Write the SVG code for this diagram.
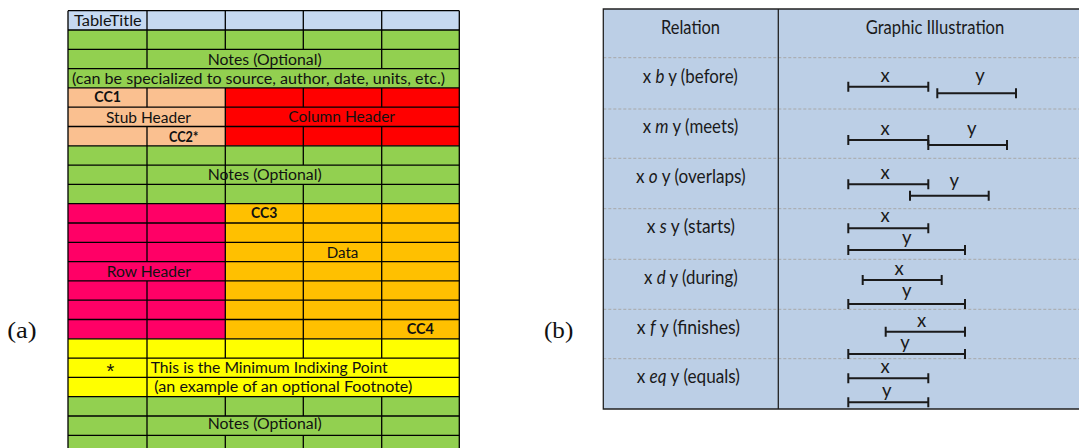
<svg xmlns="http://www.w3.org/2000/svg" width="1079" height="448" viewBox="0 0 1079 448">
  <style>
    .t { font-family: Lato, "Liberation Sans", sans-serif; font-size: 14.5px; fill: #111; }
    .b { font-weight: bold; }
    .grid { stroke: #000; stroke-width: 1.3; fill: none; }
    .r { font-family: Lato, "Liberation Sans", sans-serif; font-size: 18.5px; fill: #1a1a1a; text-anchor: middle; }
    .iv { stroke: #1a1a1a; stroke-width: 2; fill: none; }
    .dash { stroke: #a8a8a8; stroke-width: 1; stroke-dasharray: 3 2; }
    .panel { stroke: #222; stroke-width: 1.3; fill: none; }
    .cap { font-family: "Liberation Serif", serif; font-size: 23px; fill: #111; }
  </style>

  <rect width="1079" height="448" fill="#ffffff"/>

  <!-- (a) table layout -->
  <g id="table-a">
    <g id="fills">
      <rect x="68" y="10.7" width="391.3" height="19.3" fill="#c6d9f1"/>
      <rect x="68" y="30" width="391.3" height="57.9" fill="#92d050"/>
      <rect x="68" y="87.9" width="157.3" height="57.9" fill="#fac090"/>
      <rect x="225.3" y="87.9" width="234" height="57.9" fill="#ff0000"/>
      <rect x="68" y="145.8" width="391.3" height="57.9" fill="#92d050"/>
      <rect x="68" y="203.7" width="157.3" height="135.1" fill="#ff0066"/>
      <rect x="225.3" y="203.7" width="234" height="135.1" fill="#ffc000"/>
      <rect x="68" y="338.8" width="391.3" height="57.9" fill="#ffff00"/>
      <rect x="68" y="396.7" width="391.3" height="60" fill="#92d050"/>
    </g>

    <g id="rules" class="grid">
      <!-- horizontal rules -->
      <path d="M68 10.7H459.3 M68 30H459.3 M68 49.3H459.3 M68 68.6H459.3 M68 87.9H459.3
               M68 107.2H459.3 M68 126.5H459.3 M68 145.8H459.3 M68 165.1H459.3 M68 184.4H459.3
               M68 203.7H459.3 M68 223H459.3 M68 242.3H459.3 M68 261.6H459.3 M68 280.9H459.3
               M68 300.2H459.3 M68 319.5H459.3 M68 338.8H459.3 M68 358.1H459.3 M68 377.4H459.3
               M68 396.7H459.3 M68 416H459.3 M68 435.3H459.3"/>
      <!-- outer verticals -->
      <path d="M68 10.7V460 M459.3 10.7V460"/>
      <!-- inner verticals, broken where cells are merged -->
      <path d="M147 10.7V68.6 M147 87.9V107.2 M147 126.5V261.6 M147 280.9V460"/>
      <path d="M225.3 10.7V49.3 M225.3 87.9V358.1 M225.3 396.7V416 M225.3 435.3V460"/>
      <path d="M303.3 10.7V49.3 M303.3 87.9V107.2 M303.3 126.5V165.1 M303.3 184.4V358.1 M303.3 396.7V416 M303.3 435.3V460"/>
      <path d="M381.7 10.7V68.6 M381.7 87.9V107.2 M381.7 126.5V358.1 M381.7 396.7V460"/>
    </g>

    <g id="labels-a">
      <text class="t" x="74" y="26" textLength="67.7" lengthAdjust="spacingAndGlyphs">TableTitle</text>
      <text class="t" x="207.7" y="65" textLength="114" lengthAdjust="spacingAndGlyphs">Notes (Optional)</text>
      <text class="t" x="72" y="84" textLength="373" lengthAdjust="spacingAndGlyphs">(can be specialized to source, author, date, units, etc.)</text>
      <text class="t b" x="94.3" y="102.3" textLength="26.7" lengthAdjust="spacingAndGlyphs">CC1</text>
      <text class="t" x="106" y="123.3" textLength="85" lengthAdjust="spacingAndGlyphs">Stub Header</text>
      <text class="t" x="288.3" y="121.7" textLength="106.7" lengthAdjust="spacingAndGlyphs">Column Header</text>
      <text class="t b" x="169" y="141.5" textLength="29.3" lengthAdjust="spacingAndGlyphs">CC2*</text>
      <text class="t" x="207.7" y="180" textLength="114" lengthAdjust="spacingAndGlyphs">Notes (Optional)</text>
      <text class="t b" x="251" y="218.3" textLength="26.3" lengthAdjust="spacingAndGlyphs">CC3</text>
      <text class="t" x="326.7" y="257.5" textLength="31.7" lengthAdjust="spacingAndGlyphs">Data</text>
      <text class="t" x="106.7" y="277" textLength="84.3" lengthAdjust="spacingAndGlyphs">Row Header</text>
      <text class="t b" x="406.7" y="333.5" textLength="27.3" lengthAdjust="spacingAndGlyphs">CC4</text>
      <text class="t" x="110.5" y="377.5" text-anchor="middle" style="font-family:'Liberation Sans',sans-serif;font-size:20px">*</text>
      <text class="t" x="150.7" y="373.3" textLength="237" lengthAdjust="spacingAndGlyphs">This is the Minimum Indixing Point</text>
      <text class="t" x="154.3" y="392" textLength="258" lengthAdjust="spacingAndGlyphs">(an example of an optional Footnote)</text>
      <text class="t" x="207.7" y="428.5" textLength="114" lengthAdjust="spacingAndGlyphs">Notes (Optional)</text>
    </g>
  </g>

  <text id="cap-a" class="cap" x="7.3" y="338.3" textLength="29.4" lengthAdjust="spacingAndGlyphs">(a)</text>
  <text id="cap-b" class="cap" x="544" y="338.3" textLength="29.3" lengthAdjust="spacingAndGlyphs">(b)</text>

  <!-- (b) interval relations -->
  <g id="table-b">
    <rect x="603.3" y="9" width="490" height="400" fill="#bccfe6"/>
    <g id="row-rules" class="dash">
      <path d="M603.3 57.7H1079 M603.3 109H1079 M603.3 158.3H1079 M603.3 208.7H1079 M603.3 259.3H1079 M603.3 309.3H1079 M603.3 358.7H1079"/>
    </g>
    <path class="panel" d="M1079 9H603.3V409H1079 M778.3 9V409"/>

    <g id="header">
      <text class="r" x="690.5" y="33.5" textLength="59" lengthAdjust="spacingAndGlyphs">Relation</text>
      <text class="r" x="935" y="33.5" textLength="138.6" lengthAdjust="spacingAndGlyphs">Graphic Illustration</text>
    </g>

    <g id="relation-names">
      <text class="r" x="690.2" y="82.5" textLength="95" lengthAdjust="spacingAndGlyphs">x <tspan font-style="italic">b</tspan> y (before)</text>
      <text class="r" x="690.5" y="133" textLength="95.6" lengthAdjust="spacingAndGlyphs">x <tspan font-style="italic">m</tspan> y (meets)</text>
      <text class="r" x="690.8" y="183" textLength="109.7" lengthAdjust="spacingAndGlyphs">x <tspan font-style="italic">o</tspan> y (overlaps)</text>
      <text class="r" x="690.8" y="233.3" textLength="88.3" lengthAdjust="spacingAndGlyphs">x <tspan font-style="italic">s</tspan> y (starts)</text>
      <text class="r" x="690.8" y="283.8" textLength="93.7" lengthAdjust="spacingAndGlyphs">x <tspan font-style="italic">d</tspan> y (during)</text>
      <text class="r" x="688.3" y="333.8" textLength="103.3" lengthAdjust="spacingAndGlyphs">x <tspan font-style="italic">f</tspan> y (finishes)</text>
      <text class="r" x="688.3" y="383.2" textLength="103.3" lengthAdjust="spacingAndGlyphs">x <tspan font-style="italic">eq</tspan> y (equals)</text>
    </g>

    <g id="intervals" class="iv">
      <!-- before -->
      <path d="M848.3 86.7H928.3 M848.3 81.7V91.7 M928.3 81.7V91.7"/>
      <path d="M937.3 93.3H1016 M937.3 88.3V98.3 M1016 88.3V98.3"/>
      <!-- meets -->
      <path d="M848.3 140H928.3 M848.3 135V145 M928.3 135V145"/>
      <path d="M928.3 145H1007 M928.3 140V150 M1007 140V150"/>
      <!-- overlaps -->
      <path d="M848.3 184.3H928.3 M848.3 179.3V189.3 M928.3 179.3V189.3"/>
      <path d="M910 195.7H988.7 M910 190.7V200.7 M988.7 190.7V200.7"/>
      <!-- starts -->
      <path d="M848.3 228.3H928.3 M848.3 223.3V233.3 M928.3 223.3V233.3"/>
      <path d="M848.3 250H965 M848.3 245V255 M965 245V255"/>
      <!-- during -->
      <path d="M862.7 280H941.7 M862.7 275V285 M941.7 275V285"/>
      <path d="M848.3 304H965 M848.3 299V309 M965 299V309"/>
      <!-- finishes -->
      <path d="M885.7 331.7H965 M885.7 326.7V336.7 M965 326.7V336.7"/>
      <path d="M848.3 354H965 M848.3 349V359 M965 349V359"/>
      <!-- equals -->
      <path d="M848.3 378.3H928.3 M848.3 373.3V383.3 M928.3 373.3V383.3"/>
      <path d="M848.3 402.3H928.3 M848.3 397.3V407.3 M928.3 397.3V407.3"/>
    </g>

    <g id="interval-names">
      <text class="r" x="885" y="82">x</text>
      <text class="r" x="980" y="82">y</text>
      <text class="r" x="885" y="135">x</text>
      <text class="r" x="971.7" y="135">y</text>
      <text class="r" x="885" y="179">x</text>
      <text class="r" x="954.3" y="187">y</text>
      <text class="r" x="885" y="222">x</text>
      <text class="r" x="906.7" y="244">y</text>
      <text class="r" x="899" y="275">x</text>
      <text class="r" x="906.7" y="297">y</text>
      <text class="r" x="921.7" y="326.7">x</text>
      <text class="r" x="905" y="349">y</text>
      <text class="r" x="885" y="373">x</text>
      <text class="r" x="886.7" y="396.7">y</text>
    </g>
  </g>
</svg>
